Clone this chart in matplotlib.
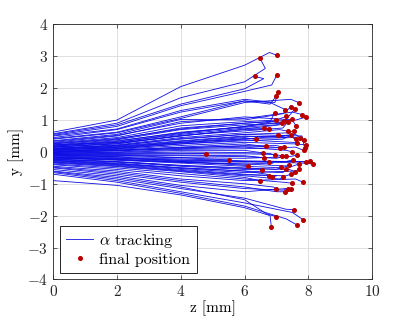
import numpy as np
import matplotlib
matplotlib.use('Agg')
import matplotlib.pyplot as plt

plt.rcParams['font.family'] = 'cmr10'
plt.rcParams['mathtext.fontset'] = 'cm'
plt.rcParams['axes.unicode_minus'] = False
plt.rcParams['axes.formatter.use_mathtext'] = True

# 궤적 데이터: z=0,2,4,6 에서의 y, 꺾이는 점, 최종 위치
z_knots = [0, 2, 4, 6]
nan = np.nan
y_knots = [
    [0.62, 1.00, 2.05, 2.72], [0.57, 0.90, 1.70, 2.20], [0.55, 0.85, 1.50, 1.98],
    [0.52, 0.80, 1.45, 1.90], [0.50, 0.72, 1.30, 1.65], [0.45, 0.70, 1.25, 1.60],
    [0.40, 0.60, 1.05, 1.55], [0.42, 0.62, 1.10, 1.60], [0.35, 0.55, 1.02, 1.00],
    [0.30, 0.50, 0.95, 1.05], [0.33, 0.52, 0.90, 1.10], [0.28, 0.45, 0.82, 0.95],
    [0.25, 0.40, 0.75, 0.90], [0.22, 0.38, 0.70, 0.85], [0.20, 0.35, 0.60, 0.80],
    [0.18, 0.33, 0.62, 0.78], [0.22, 0.30, 0.55, 0.75], [0.15, 0.28, 0.50, 0.70],
    [0.16, 0.25, 0.52, 0.66], [0.12, 0.22, 0.45, 0.60], [0.10, 0.20, 0.42, 0.55],
    [0.08, 0.18, 0.35, 0.50], [0.05, 0.15, 0.30, 0.45], [0.10, 0.16, 0.33, 0.48],
    [0.06, 0.12, 0.28, 0.42], [0.04, 0.10, 0.25, 0.38], [0.02, 0.08, 0.20, 0.30],
    [0.00, 0.05, 0.15, 0.25], [-0.02, 0.03, 0.12, 0.20], [0.03, 0.06, 0.14, 0.18],
    [-0.05, 0.00, 0.08, 0.10], [-0.03, -0.02, 0.05, 0.05], [-0.06, -0.05, -0.04, nan],
    [-0.08, -0.10, -0.18, nan], [-0.10, -0.15, -0.30, -0.42], [-0.04, -0.04, 0.00, -0.02],
    [-0.07, -0.08, -0.06, -0.06], [-0.09, -0.10, -0.10, -0.12], [-0.12, -0.15, -0.18, -0.20],
    [-0.13, -0.18, -0.22, -0.28], [-0.15, -0.20, -0.25, -0.30], [-0.16, -0.21, -0.27, -0.30],
    [-0.18, -0.23, -0.30, -0.32], [-0.17, -0.24, -0.33, -0.38], [-0.20, -0.26, -0.35, -0.45],
    [-0.22, -0.30, -0.42, -0.50], [-0.24, -0.32, -0.45, -0.55], [-0.26, -0.35, -0.50, -0.60],
    [-0.28, -0.38, -0.52, -0.65], [-0.30, -0.40, -0.55, -0.70], [-0.32, -0.42, -0.58, -0.72],
    [-0.35, -0.46, -0.62, -0.80], [-0.38, -0.50, -0.68, -0.85], [-0.40, -0.55, -0.75, -0.90],
    [-0.45, -0.60, -0.85, -1.00], [-0.48, -0.65, -0.90, -1.10], [-0.50, -0.70, -0.95, -1.15],
    [-0.55, -0.75, -1.05, -1.25], [-0.62, -0.85, -1.15, -1.45], [-0.60, -0.80, -1.10, -1.50],
    [-0.65, -0.90, -1.25, -1.60], [-0.70, -0.95, -1.30, -1.70], [-0.90, -1.05, -1.35, -1.75],
    [0.18, 0.30, 0.58, 0.80], [0.14, 0.26, 0.50, 0.72], [0.00, 0.10, 0.25, 0.35],
    [0.07, 0.14, 0.30, 0.40], [-0.01, 0.04, 0.10, 0.15], [-0.11, -0.12, -0.12, -0.15],
    [-0.19, -0.25, -0.32, -0.38], [-0.23, -0.31, -0.43, -0.52], [-0.27, -0.37, -0.50, -0.60],
    [-0.33, -0.44, -0.60, -0.75], [0.26, 0.42, 0.72, 0.90], [0.11, 0.20, 0.40, 0.55],
]
z_bend = [6.78, 6.65, 6.60, 6.85, 6.95, 6.80, 7.45, 6.80, 7.20, 7.50, 7.60, 7.00,
          6.80, 7.20, 6.90, 7.00, nan, nan, 7.20, 7.10, 7.40, 7.30, nan, 7.40,
          7.60, 7.50, 7.60, nan, 6.90, 7.00, 7.60, nan, nan, nan, nan, 6.80,
          6.90, nan, 7.40, 7.30, 7.80, 7.70, 7.60, 6.90, 7.20, 7.00, nan, 7.20,
          7.60, 7.00, 7.30, nan, 7.20, 7.60, 6.90, 7.00, 7.20, 7.30, 7.30, 6.70,
          7.50, 7.30, 6.80, 7.30, 7.10, 7.20, 7.60, 7.30, 7.00, 7.50, 7.40, 6.70,
          7.10, 7.50, 7.80]
y_bend = [3.12, 2.62, 2.30, 2.10, 1.55, 1.50, 1.65, 1.55, 1.20, 1.25, 1.00, 1.00,
          0.95, 0.90, 0.95, 0.85, nan, nan, 0.75, 0.70, 0.60, 0.45, nan, 0.50,
          0.45, 0.30, 0.25, nan, 0.15, 0.20, 0.15, nan, nan, nan, nan, -0.05,
          -0.08, nan, -0.15, -0.30, -0.35, -0.30, -0.30, -0.35, -0.50, -0.55, nan, -0.65,
          -0.60, -0.75, -0.75, nan, -0.95, -0.85, -1.10, -1.25, -1.20, -1.15, -1.80, -1.95,
          -1.90, -2.10, -2.00, 0.95, 0.85, 0.40, 0.55, 0.05, -0.20, -0.45, -0.55, -0.70,
          -0.85, 1.00, 0.50]
z_end = [7.02, 6.48, 6.32, 7.01, 7.06, 6.99, 7.70, 7.27, 7.45, 7.81, 7.92, 7.31,
         6.94, 7.58, 6.99, 7.18, 6.61, 6.75, 7.36, 7.35, 7.55, 7.04, 6.37, 7.60,
         7.85, 7.65, 7.92, 6.66, 7.10, 7.22, 7.85, 6.58, 4.79, 5.51, 6.11, 6.95,
         7.18, 6.60, 7.65, 7.52, 8.16, 8.05, 7.92, 6.75, 7.40, 7.15, 6.55, 7.30,
         7.70, 6.85, 7.45, 6.48, 7.48, 7.83, 6.99, 7.28, 7.35, 7.45, 7.56, 6.99,
         7.84, 7.64, 6.84, 7.50, 7.25, 7.45, 7.75, 7.50, 7.30, 7.70, 7.58, 6.78,
         7.20, 7.62, 7.88]
y_end = [3.03, 2.94, 2.37, 2.41, 1.89, 1.75, 1.55, 1.33, 1.41, 1.17, 1.09, 1.12,
         1.23, 1.35, 1.00, 0.91, 0.74, 0.72, 0.95, 0.65, 0.67, 0.52, 0.39, 0.40,
         0.36, 0.28, 0.22, 0.17, 0.13, 0.14, 0.05, -0.03, -0.05, -0.25, -0.45, -0.10,
         -0.12, -0.18, -0.10, -0.25, -0.38, -0.30, -0.32, -0.32, -0.40, -0.48, -0.56, -0.55,
         -0.55, -0.80, -0.70, -0.90, -0.98, -0.95, -1.15, -1.25, -1.15, -1.15, -1.81, -2.03,
         -2.13, -2.29, -2.36, 1.02, 0.96, 0.52, 0.43, 0.00, -0.12, -0.38, -0.62, -0.75,
         -0.78, 0.80, 0.13]

fig = plt.figure(figsize=(4.09, 3.26), dpi=100)
ax = fig.add_axes([0.130, 0.143, 0.780, 0.782])

for i in range(len(z_end)):
    zs = [z for z, y in zip(z_knots, y_knots[i]) if not np.isnan(y)]
    ys = [y for y in y_knots[i] if not np.isnan(y)]
    if not np.isnan(z_bend[i]):
        zs.append(z_bend[i])
        ys.append(y_bend[i])
    zs.append(z_end[i])
    ys.append(y_end[i])
    ax.plot(zs, ys, color=(0.05, 0.05, 0.9), lw=0.6,
            label=r'$\alpha$ tracking' if i == 0 else None)

ax.plot(z_end, y_end, 'o', color=(0.72, 0, 0), ms=2.6, ls='none',
        label='final position')

ax.set_xlim(0, 10)
ax.set_ylim(-4, 4)
ax.set_xticks(range(0, 11, 2))
ax.set_yticks(range(-4, 5))
ax.tick_params(direction='in', length=3, width=0.5, labelsize=11,
               top=True, right=True, colors=(0.15, 0.15, 0.15))
for s in ax.spines.values():
    s.set_linewidth(0.6)
    s.set_color((0.15, 0.15, 0.15))
ax.grid(True, color=(0.86, 0.86, 0.86), lw=0.6)
ax.set_axisbelow(True)
ax.set_xlabel('z [mm]', fontsize=11, labelpad=1)
ax.set_ylabel('y [mm]', fontsize=11, labelpad=2)

leg = ax.legend(loc='lower left', bbox_to_anchor=(0.02, 0.025), borderaxespad=0,
                fontsize=11.5, fancybox=False, framealpha=1, edgecolor='k',
                handlelength=1.7, handletextpad=0.4, borderpad=0.4, labelspacing=0.15)
leg.get_frame().set_linewidth(0.6)

plt.savefig('out.png', dpi=100)
